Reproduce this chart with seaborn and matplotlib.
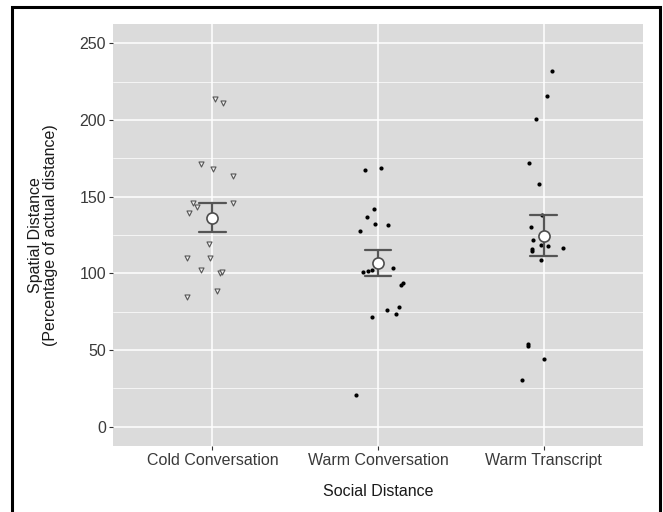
import numpy as np
import pandas as pd
import matplotlib
matplotlib.use("Agg")
import matplotlib.pyplot as plt
import matplotlib.patches as mpatches
import seaborn as sns

categories = ["Cold Conversation", "Warm Conversation", "Warm Transcript"]

cold_conversation = [213.3, 210.7, 171.4, 167.8, 163.6, 145.6, 145.6, 143.0, 139.1,
                     119.1, 110.2, 110.2, 100.5, 102.0, 100.9, 88.7, 84.6]
warm_conversation = [168.8, 167.5, 141.9, 136.7, 131.3, 132.0, 127.6, 108.3, 103.5,
                     101.8, 100.7, 102.0, 92.4, 93.5, 76.0, 78.1, 73.8, 71.4, 20.6]
warm_transcript = [231.6, 215.9, 200.7, 172.1, 158.0, 137.8, 130.4, 121.9, 118.5,
                   116.7, 117.8, 115.9, 114.6, 108.9, 52.5, 53.8, 44.3, 30.4]

y_ticks = [0, 50, 100, 150, 200, 250]

df = pd.DataFrame({
    "cond": [categories[0]] * len(cold_conversation)
            + [categories[1]] * len(warm_conversation)
            + [categories[2]] * len(warm_transcript),
    "val": cold_conversation + warm_conversation + warm_transcript,
})

sns.set_theme(style="darkgrid")
plt.rcParams["font.family"] = ["Liberation Sans", "DejaVu Sans"]

fig = plt.figure(figsize=(6.63, 5.12), dpi=100)
fig.patch.set_facecolor("white")
ax = fig.add_axes([113 / 663, 1 - 446 / 512, 530 / 663, 422 / 512])
ax.set_facecolor("#DBDBDB")

np.random.seed(3)
cold_df = df[df["cond"] == categories[0]]
warm_df = df[df["cond"] != categories[0]]

sns.stripplot(data=cold_df, x="cond", y="val", order=categories, ax=ax,
              marker="v", color="#EEEEEE", edgecolor="#555555", linewidth=0.8,
              size=3.6, jitter=0.16, zorder=3)
sns.stripplot(data=warm_df, x="cond", y="val", order=categories, ax=ax,
              marker="o", color="black", linewidth=0, size=3.0,
              jitter=0.16, zorder=3)

n_before = len(ax.lines)
sns.pointplot(data=df, x="cond", y="val", order=categories, ax=ax,
              errorbar="se", linestyle="none", marker="o", color="#555555",
              markersize=8, markerfacecolor="white", markeredgecolor="#555555",
              markeredgewidth=1.2, capsize=0.16, err_kws={"linewidth": 1.6})

for ln in ax.lines[n_before:]:
    if ln.get_marker() in ("o",):
        ln.set_markerfacecolor("white")
        ln.set_markeredgecolor("#4D4D4D")
        ln.set_zorder(10)
    else:
        ln.set_zorder(6)

ax.set_xlim(-0.6, 2.6)
ax.set_ylim(-12.5, 262.5)
ax.set_yticks(y_ticks)
ax.set_yticks([25, 75, 125, 175, 225], minor=True)
ax.grid(which="major", color="white", linewidth=1.1)
ax.grid(which="minor", axis="y", color="white", linewidth=0.5)
ax.set_axisbelow(True)
for s in ax.spines.values():
    s.set_visible(False)

ax.tick_params(axis="both", which="major", length=3, width=0.8, color="#333333",
               labelsize=11.5, labelcolor="#3A3A3A", pad=2)
ax.tick_params(axis="both", which="minor", length=0)
ax.tick_params(axis="both", bottom=True, left=True)

ax.set_xlabel("Social Distance", fontsize=11.5, color="#1A1A1A")
ax.xaxis.set_label_coords(0.5, -0.109)
ax.xaxis.label.set_va("center")
ax.set_ylabel("Spatial Distance\n(Percentage of actual distance)", fontsize=11.5,
              color="#1A1A1A", linespacing=1.0)
ax.yaxis.set_label_coords(-0.132, 0.5)
ax.yaxis.label.set_va("center")

border = mpatches.Rectangle((12 / 663, -0.05), (660 - 12) / 663, 1 - 7 / 512 + 0.05,
                            transform=fig.transFigure, fill=False,
                            edgecolor="black", linewidth=2.2, clip_on=False)
fig.patches.append(border)

fig.savefig("out.png", dpi=100, facecolor="white")
